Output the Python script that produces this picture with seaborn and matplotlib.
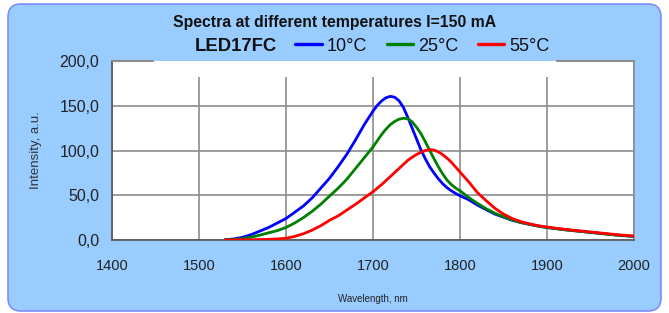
import matplotlib
matplotlib.use("Agg")
import matplotlib.pyplot as plt
from matplotlib.patches import FancyBboxPatch, Rectangle
from matplotlib.lines import Line2D
from matplotlib.ticker import FuncFormatter
import pandas as pd
import seaborn as sns

#################### CONFIG ####################
sns.set_style("white")
plt.rcParams["font.family"] = ["Liberation Sans", "DejaVu Sans"]

BG = "#99CCFF"
EDGE = "#7F8CFF"
GRID = "#8C8C8C"
TEMP_COLORS = ["#0000FF", "#008000", "#FF0000"]

#################### DATA ####################
wavelength = [1530, 1540, 1550, 1560, 1570, 1580, 1590, 1600, 1610, 1620,
              1630, 1640, 1650, 1660, 1670, 1680, 1690, 1700, 1705, 1710,
              1715, 1720, 1725, 1730, 1735, 1740, 1745, 1750, 1755, 1760,
              1765, 1770, 1775, 1780, 1785, 1790, 1795, 1800, 1810, 1820,
              1830, 1840, 1850, 1860, 1870, 1880, 1890, 1900, 1920, 1940,
              1960, 1980, 2000]

temp_labels = ["10°C", "25°C", "55°C"]

t10 = [0.3, 1.2, 3, 6, 10, 14, 19, 24, 31, 38,
       47, 58, 69, 82, 96, 112, 129, 144, 150.5, 155.5,
       159, 160.5, 159.5, 155.5, 148, 137, 125, 113, 101, 91,
       82, 75, 68.5, 63, 58.5, 55, 52, 49.5, 45, 39,
       34, 29, 25.5, 22, 19.5, 17.5, 15.5, 14, 11.5, 9.5,
       7.5, 5.5, 4]

t25 = [0.2, 0.6, 1.5, 3.2, 5.5, 8, 10.5, 14, 19, 25,
       32, 40, 49, 58, 68, 80, 92, 104, 111, 118,
       124, 129, 132.5, 135, 136, 135.5, 132, 126, 119, 110,
       100.5, 91, 82, 74, 67, 62, 58, 55, 47.5, 41,
       35, 30, 26, 22.5, 19.5, 17.5, 15.5, 14, 11.5, 9.5,
       7.5, 5.5, 4]

t55 = [0.1, 0.1, 0.2, 0.3, 0.5, 0.8, 1.2, 2, 4, 7,
       11, 16, 22, 27, 33.5, 40, 47, 54, 58, 62,
       66.5, 71, 75.5, 80, 84.5, 89, 92.5, 95.5, 98, 100,
       101, 100.5, 98.5, 95.5, 91.5, 87, 81.5, 76, 65, 53,
       44, 35.5, 29, 24, 20.5, 18, 16, 14.5, 12, 10,
       8, 6, 4.5]

df = pd.concat(
    [
        pd.DataFrame({"wl": wavelength, "intensity": vals, "temp": lab})
        for lab, vals in zip(temp_labels, [t10, t25, t55])
    ]
)

#################### PLOT ####################
fig = plt.figure(figsize=(6.69, 3.13), dpi=100, facecolor="white")

# rounded light-blue chart area
fig.patches.append(
    FancyBboxPatch(
        (0.08, 0.02), 6.53, 3.07,
        boxstyle="round,pad=0,rounding_size=0.13",
        transform=fig.dpi_scale_trans,
        facecolor=BG, edgecolor=EDGE, linewidth=1.2, zorder=-10,
    )
)

ax = fig.add_axes([0.1674, 0.2332, 0.7803, 0.5719])
ax.set_facecolor("white")

sns.lineplot(
    data=df, x="wl", y="intensity", hue="temp",
    palette=TEMP_COLORS, linewidth=2.0, legend=False, ax=ax, zorder=3,
)

ax.set_xlim(1400, 2000)
ax.set_ylim(0, 200)
ax.set_xticks(range(1400, 2001, 100))
ax.set_yticks(range(0, 201, 50))
ax.yaxis.set_major_formatter(FuncFormatter(lambda v, p: f"{v:.1f}".replace(".", ",")))

ax.set_axisbelow(True)
ax.grid(True, color=GRID, linewidth=1.2)
ax.tick_params(axis="both", direction="out", length=5, width=1, color="#555555",
               labelcolor="#222222", pad=4)
ax.tick_params(axis="x", labelsize=10.5, pad=9)
ax.tick_params(axis="y", labelsize=11.5)

for side in ["left", "bottom"]:
    ax.spines[side].set_color("#555555")
    ax.spines[side].set_linewidth(1.2)
ax.spines["right"].set_color(GRID)
ax.spines["right"].set_linewidth(1.2)
ax.spines["top"].set_visible(False)

# top edge only partly visible, the legend strip covers the middle
x_a, x_b = (153 - 112) / 522, (557 - 112) / 522
y_a = (240 - 77) / 179
ax.add_patch(Rectangle((x_a, y_a), x_b - x_a, 1 - y_a, transform=ax.transAxes,
                       facecolor="white", edgecolor="none", zorder=1.5))
ax.plot([0, x_a], [1, 1], transform=ax.transAxes, color=GRID, lw=1.5, clip_on=False, zorder=4)
ax.plot([x_b, 1], [1, 1], transform=ax.transAxes, color=GRID, lw=1.5, clip_on=False, zorder=4)

ax.set_xlabel("Wavelength, nm", fontsize=7, color="#222222", labelpad=15)
ax.set_ylabel("Intensity, a.u.", fontsize=9.5, color="#333333", labelpad=13)

fig.text(0.5, 0.928, "Spectra at different temperatures I=150 mA",
         ha="center", va="center", fontsize=11.3, weight="bold", color="#111111")
fig.text(0.352, 0.853, "LED17FC", ha="center", va="center",
         fontsize=13.3, weight="bold", color="#111111")

handles = [Line2D([], [], color=c, lw=2.4) for c in TEMP_COLORS]
fig.legend(handles, temp_labels, loc="center", bbox_to_anchor=(0.6315, 0.853),
           ncol=3, frameon=False, fontsize=13, handlelength=1.45,
           handletextpad=0.28, columnspacing=1.1, labelcolor="#111111",
           borderpad=0, borderaxespad=0)

plt.savefig("out.png", dpi=100, facecolor="white")
